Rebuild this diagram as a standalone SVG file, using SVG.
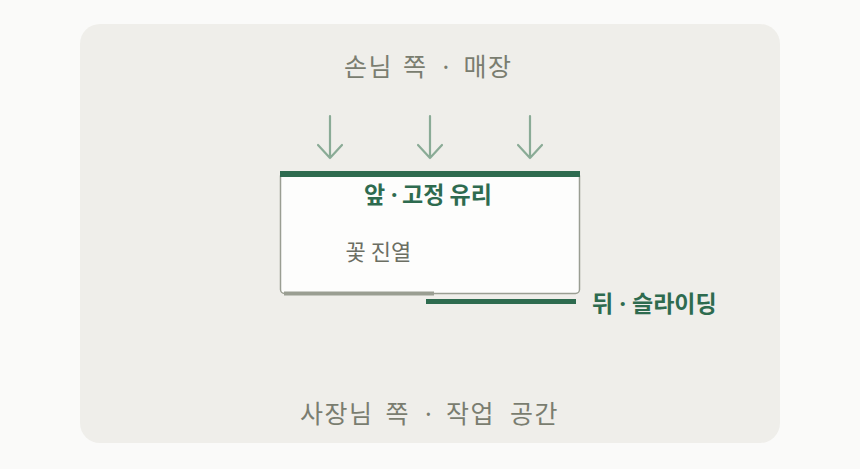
<svg xmlns="http://www.w3.org/2000/svg" width="860" height="469" viewBox="0 0 860 469">
<defs>
<style>
.t{font-family:"Noto Sans CJK KR","Noto Sans",sans-serif}
.lbl{fill:#7a7d70;font-size:25px;letter-spacing:1.5px;word-spacing:3px}
.g{fill:#2e6b4f;font-weight:bold;font-size:23px}
.dot{font-family:"Noto Sans",sans-serif}
.arr{stroke:#8aab96;stroke-width:2.2;fill:none;stroke-linecap:round;stroke-linejoin:round}
</style>
</defs>
<rect width="860" height="469" fill="#fafaf9"/>
<rect x="80" y="24" width="700" height="419" rx="20" fill="#efeeea"/>
<text class="t lbl" y="76"><tspan x="344">손님 쪽</tspan><tspan class="dot" x="442.5">·</tspan><tspan x="463.5">매장</tspan></text>
<text class="t lbl" y="423"><tspan x="300" word-spacing="5">사장님 쪽</tspan><tspan class="dot" x="425">·</tspan><tspan x="446" word-spacing="8">작업 공간</tspan></text>
<g id="connectors">
<path class="arr" d="M330 116V158M318 145L330 158L342 145"/>
<path class="arr" d="M430 116V158M418 145L430 158L442 145"/>
<path class="arr" d="M530 116V158M518 145L530 158L542 145"/>
</g>
<g id="case">
<rect x="280.5" y="172" width="299" height="121.5" rx="4" fill="#fdfdfc" stroke="#9a9e92" stroke-width="1.5"/>
<rect x="280" y="171" width="300" height="6" fill="#2e6b4f"/>
<text class="t g" y="203"><tspan x="364">앞</tspan><tspan class="dot" x="391">·</tspan><tspan x="402">고정 유리</tspan></text>
<text class="t" x="345.5" y="260" fill="#6b6e62" font-size="22">꽃 진열</text>
</g>
<g id="back">
<line x1="284" y1="293.5" x2="434" y2="293.5" stroke="#9a9e92" stroke-width="4"/>
<line x1="426" y1="301.5" x2="576" y2="301.5" stroke="#2e6b4f" stroke-width="5"/>
<text class="t g" y="311.5"><tspan x="592">뒤</tspan><tspan class="dot" x="619.5">·</tspan><tspan x="632">슬라이딩</tspan></text>
</g>
</svg>
